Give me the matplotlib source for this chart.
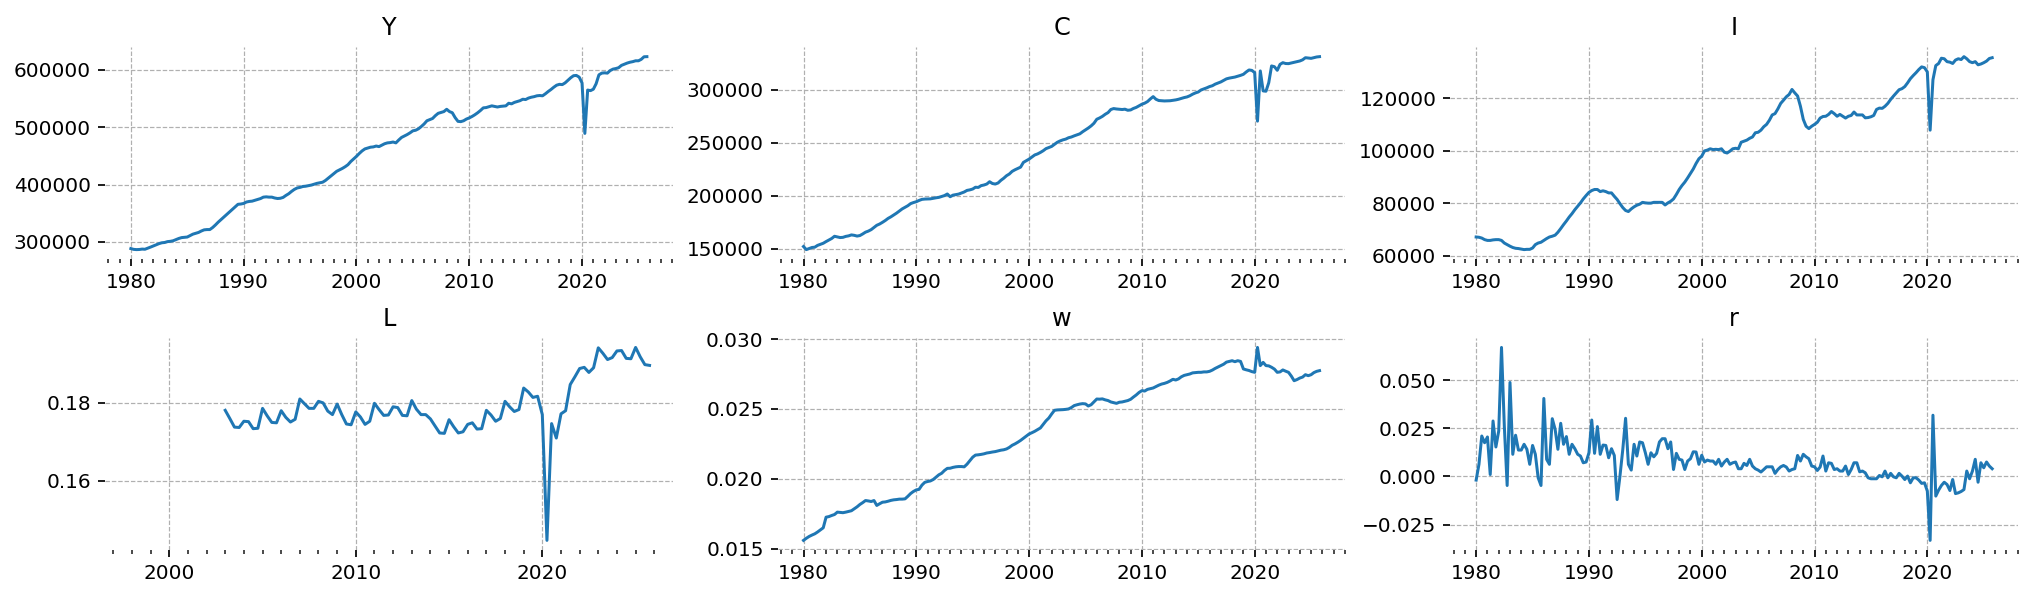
import matplotlib
matplotlib.use("Agg")
import matplotlib.pyplot as plt
import matplotlib.dates as mdates
import pandas as pd
import datetime as dt

# ---------------- data (quarterly, 1980Q1 - 2025Q4) ----------------
start_main = "1980-01-01"
start_L = "2003-01-01"

Y = [
    288400, 287000, 286600, 286800,  287500, 287200, 289000, 291000,
    293000, 295000, 297000, 298500,  299000, 300500, 301000, 302000,
    304000, 306000, 307500, 308000,  308500, 311000, 313500, 315000,
    316500, 319000, 321000, 321500,  321500, 325000, 329500, 334500,
    339000, 343500, 348000, 352500,  357000, 361500, 365500, 366000,
    367000, 369500, 370500, 371000,  372500, 374000, 375500, 378000,
    378500, 378000, 378000, 376500,  375600, 376000, 377500, 381000,
    384000, 388000, 391500, 394000,  395000, 396500, 397000, 398000,
    399000, 400500, 402000, 403000,  404000, 407000, 411000, 415000,
    419000, 423000, 425500, 428000,  431000, 434500, 440000, 444500,
    449000, 454000, 458500, 462000,  463500, 465000, 465500, 467000,
    466000, 468500, 471000, 472500,  473000, 474000, 472500, 477500,
    482000, 484500, 487000, 490000,  493500, 494500, 497000, 501000,
    505500, 511000, 513000, 515000,  520000, 524000, 525500, 527000,
    531000, 527000, 525000, 516500,  510000, 509500, 511000, 514000,
    516000, 518500, 521500, 525000,  529000, 533500, 534000, 535500,
    537000, 536000, 535000, 536000,  536500, 537000, 541500, 540500,
    543000, 544500, 546000, 548500,  548000, 550500, 552000, 553000,
    554500, 555000, 554500, 558000,  562000, 565500, 569500, 573000,
    574500, 574000, 577000, 581500,  586000, 589500, 590000, 587000,
    577000, 489000, 564500, 563500,  566000, 575500, 591000, 594000,
    594500, 594000, 598500, 601000,  602000, 603500, 607500, 609500,
    611500, 613000, 614000, 615500,  615500, 618000, 622500, 622700,
]

C = [
    151900, 149000, 150000, 151000,  151300, 153000, 154000, 155000,
    156600, 158000, 159500, 161600,  161000, 160400, 160600, 161500,
    162000, 162900, 162500, 161800,  162300, 163800, 165500, 166500,
    167900, 170000, 172000, 173200,  174800, 176500, 178500, 180000,
    181800, 183500, 185500, 187500,  189000, 190500, 192500, 193500,
    194300, 195500, 196500, 196800,  196900, 197000, 197500, 198000,
    198400, 199200, 200100, 201600,  199000, 200500, 201000, 201500,
    202500, 203500, 205000, 205500,  206300, 208000, 207800, 209500,
    210100, 211000, 213200, 211500,  211000, 212000, 214500, 216500,
    218900, 220500, 223000, 224500,  225800, 227000, 231500, 233000,
    234600, 236500, 238500, 239500,  240900, 242500, 244500, 245500,
    246600, 248500, 250500, 251800,  252800, 253500, 254800, 255500,
    256600, 257500, 258500, 260500,  262300, 264000, 266000, 268500,
    272300, 273500, 275000, 277000,  278600, 281500, 282400, 282000,
    281800, 281500, 281800, 280800,  281100, 282500, 283500, 285000,
    286500, 287500, 289000, 291500,  293700, 291200, 290000, 289800,
    289600, 289700, 289800, 290200,  290600, 291200, 292000, 292800,
    293400, 294500, 296000, 297200,  298100, 300000, 301000, 302000,
    303200, 304000, 305500, 306500,  307600, 309000, 310500, 311200,
    311700, 312200, 313000, 313800,  314800, 317000, 318900, 318500,
    316400, 270500, 318000, 299100,  298800, 306900, 322700, 322000,
    318600, 324200, 325800, 325000,  324900, 325500, 326000, 326800,
    327400, 328500, 330500, 330200,  329900, 330500, 331200, 331500,
]

I = [
    67100, 67000, 66700, 66100,  65800, 65800, 66000, 66100,
    66100, 65800, 64800, 64200,  63600, 63100, 62800, 62700,
    62500, 62300, 62400, 62400,  62900, 64200, 64800, 65100,
    65800, 66500, 67100, 67400,  67800, 68900, 70300, 71800,
    73200, 74700, 76000, 77500,  78800, 80100, 81600, 82900,
    84100, 84800, 85200, 85200,  84400, 84700, 84400, 83900,
    83900, 82600, 81400, 79800,  78300, 77200, 76800, 77800,
    78600, 79200, 79600, 80300,  80100, 80000, 80000, 80300,
    80300, 80300, 80300, 79300,  80100, 80700, 81600, 83300,
    85200, 86700, 88000, 89600,  91300, 93000, 95100, 96900,
    97900, 99900, 100200, 100700,  100400, 100500, 100400, 100700,
    99400, 99100, 99800, 100700,  100900, 100700, 103200, 103600,
    104000, 104700, 105200, 106800,  107000, 107800, 109100, 110000,
    111600, 113600, 114100, 115900,  118000, 119200, 120500, 121400,
    123300, 122000, 120800, 116900,  111900, 109300, 108400, 109300,
    110000, 110800, 112400, 113000,  113100, 113800, 114900, 114100,
    113100, 113800, 113100, 112400,  113100, 113400, 114700, 113600,
    113600, 113600, 112500, 112600,  112900, 113400, 115700, 116200,
    116100, 116900, 118000, 119500,  120800, 122000, 123200, 123600,
    124400, 125800, 127400, 128600,  129700, 130900, 131900, 131600,
    130000, 107800, 127000, 132400,  133200, 135200, 135000, 133900,
    133700, 133200, 134500, 135000,  134700, 135800, 135000, 133900,
    133500, 133900, 132700, 133000,  133500, 134100, 135100, 135400,
]

L = [
    0.1780, 0.1759, 0.1737, 0.1736,  0.1752, 0.1751, 0.1733, 0.1734,
    0.1785, 0.1766, 0.1749, 0.1748,  0.1779, 0.1762, 0.1750, 0.1757,
    0.1809, 0.1797, 0.1785, 0.1785,  0.1803, 0.1799, 0.1778, 0.1769,
    0.1796, 0.1769, 0.1745, 0.1743,  0.1776, 0.1763, 0.1744, 0.1752,
    0.1798, 0.1782, 0.1767, 0.1768,  0.1789, 0.1787, 0.1767, 0.1766,
    0.1805, 0.1783, 0.1769, 0.1769,  0.1758, 0.1740, 0.1722, 0.1721,
    0.1756, 0.1738, 0.1722, 0.1725,  0.1744, 0.1748, 0.1732, 0.1733,
    0.1780, 0.1768, 0.1752, 0.1759,  0.1803, 0.1789, 0.1777, 0.1782,
    0.1837, 0.1827, 0.1813, 0.1816,  0.1769, 0.1447, 0.1746, 0.1709,
    0.1771, 0.1779, 0.1846, 0.1866,  0.1887, 0.1890, 0.1877, 0.1889,
    0.1940, 0.1926, 0.1910, 0.1915,  0.1932, 0.1933, 0.1913, 0.1912,
    0.1941, 0.1917, 0.1897, 0.1895,
]

w = [
    0.01560, 0.01575, 0.01588, 0.01598,  0.01607, 0.01620, 0.01635, 0.01650,
    0.01726, 0.01730, 0.01738, 0.01745,  0.01762, 0.01760, 0.01758, 0.01762,
    0.01767, 0.01772, 0.01786, 0.01800,  0.01817, 0.01830, 0.01845, 0.01842,
    0.01838, 0.01845, 0.01810, 0.01822,  0.01833, 0.01835, 0.01840, 0.01846,
    0.01850, 0.01852, 0.01855, 0.01855,  0.01857, 0.01875, 0.01895, 0.01910,
    0.01921, 0.01925, 0.01955, 0.01975,  0.01981, 0.01985, 0.01995, 0.02012,
    0.02029, 0.02040, 0.02060, 0.02075,  0.02076, 0.02082, 0.02086, 0.02088,
    0.02088, 0.02086, 0.02105, 0.02130,  0.02155, 0.02170, 0.02172, 0.02175,
    0.02179, 0.02185, 0.02188, 0.02192,  0.02195, 0.02200, 0.02205, 0.02208,
    0.02214, 0.02225, 0.02240, 0.02250,  0.02262, 0.02275, 0.02290, 0.02305,
    0.02321, 0.02330, 0.02340, 0.02352,  0.02364, 0.02390, 0.02415, 0.02435,
    0.02464, 0.02490, 0.02493, 0.02494,  0.02495, 0.02497, 0.02500, 0.02510,
    0.02524, 0.02530, 0.02535, 0.02538,  0.02536, 0.02521, 0.02530, 0.02550,
    0.02571, 0.02570, 0.02572, 0.02565,  0.02560, 0.02550, 0.02545, 0.02540,
    0.02548, 0.02550, 0.02555, 0.02560,  0.02569, 0.02585, 0.02600, 0.02618,
    0.02631, 0.02628, 0.02640, 0.02645,  0.02650, 0.02660, 0.02670, 0.02678,
    0.02683, 0.02690, 0.02700, 0.02712,  0.02707, 0.02715, 0.02730, 0.02740,
    0.02745, 0.02750, 0.02758, 0.02760,  0.02762, 0.02762, 0.02765, 0.02765,
    0.02769, 0.02778, 0.02790, 0.02800,  0.02810, 0.02820, 0.02835, 0.02840,
    0.02845, 0.02838, 0.02845, 0.02840,  0.02786, 0.02780, 0.02775, 0.02767,
    0.02762, 0.02940, 0.02810, 0.02833,  0.02810, 0.02808, 0.02798, 0.02785,
    0.02762, 0.02765, 0.02779, 0.02770,  0.02762, 0.02735, 0.02702, 0.02710,
    0.02721, 0.02728, 0.02745, 0.02738,  0.02745, 0.02760, 0.02769, 0.02774,
]

r = [
    -0.0019, 0.0063, 0.0210, 0.0175, 0.0205, 0.0010, 0.0288, 0.0153, 0.0236, 0.0670,
    0.0262, -0.0047, 0.0488, 0.0115, 0.0214, 0.0137, 0.0137, 0.0167, 0.0141, 0.0063,
    0.0161, 0.0115, -0.0007, -0.0047, 0.0405, 0.0089, 0.0063, 0.0300, 0.0245, 0.0141,
    0.0276, 0.0167, 0.0207, 0.0115, 0.0167, 0.0144, 0.0115, 0.0106, 0.0071, 0.0075,
    0.0123, 0.0293, 0.0120, 0.0259, 0.0115, 0.0163, 0.0161, 0.0097, 0.0144, 0.0109,
    -0.0120, 0.0002, 0.0141, 0.0302, 0.0063, 0.0033, 0.0167, 0.0106, 0.0179, 0.0175,
    0.0123, 0.0063, 0.0123, 0.0102, 0.0120, 0.0179, 0.0196, 0.0196, 0.0144, 0.0179,
    0.0036, 0.0120, 0.0089, 0.0085, 0.0036, 0.0080, 0.0092, 0.0128, 0.0127, 0.0063,
    0.0110, 0.0075, 0.0085, 0.0080, 0.0080, 0.0063, 0.0089, 0.0054, 0.0075, 0.0089,
    0.0063, 0.0071, 0.0075,
    0.0040, 0.0040, 0.0068, 0.0057, 0.0089, 0.0054, 0.0040, 0.0033, 0.0023, 0.0036,
    0.0050, 0.0050, 0.0050, 0.0016, 0.0036, 0.0050, 0.0057, 0.0049, 0.0028, 0.0036,
    0.0040, 0.0109, 0.0080, 0.0115, 0.0102, 0.0092, 0.0054, 0.0050, 0.0031, 0.0049,
    0.0106, 0.0028, 0.0071, 0.0068, 0.0036, 0.0040, 0.0028, 0.0028, 0.0054, 0.0010,
    0.0036, 0.0071, 0.0071, 0.0024, 0.0028, 0.0019, -0.0007, -0.0012, -0.0012, -0.0012,
    0.0005, -0.0002, 0.0028, -0.0007, 0.0016, -0.0002, -0.0007, 0.0016, 0.0002, -0.0016,
    0.0002, -0.0033, -0.0007, -0.0007, -0.0019, -0.0036, -0.0033, -0.0076, -0.0332, 0.0318,
    -0.0102, -0.0071, -0.0047, -0.0030, -0.0042, -0.0073, -0.0016, -0.0089, -0.0085, -0.0078,
    -0.0068, 0.0028, -0.0012, 0.0028, 0.0089, -0.0030, 0.0071, 0.0045, 0.0075, 0.0054,
    0.0040,
]

titles = ["Y", "C", "I", "L", "w", "r"]

# ---------------- figure ----------------
dates_main = pd.date_range(start_main, periods=len(Y), freq="QS")
dates_L = pd.date_range(start_L, periods=len(L), freq="QS")

series = [
    (dates_main, Y), (dates_main, C), (dates_main, I),
    (dates_L, L), (dates_main, w), (dates_main, r),
]

plt.rcParams["font.family"] = ["DejaVu Sans"]
fig, axes = plt.subplots(2, 3, figsize=(2032 / 144, 592 / 144), dpi=144)
fig.subplots_adjust(left=0.0517, right=0.9931, bottom=0.0709, top=0.9206,
                    wspace=0.185, hspace=0.37)

for ax, (dts, vals), title in zip(axes.flat, series, titles):
    ax.plot(dts, vals, color="#1f77b4", linewidth=1.5)
    ax.set_title(title, fontsize=12)
    ax.xaxis.set_major_locator(mdates.YearLocator(10))
    ax.xaxis.set_minor_locator(mdates.YearLocator(1))
    ax.xaxis.set_major_formatter(mdates.DateFormatter("%Y"))
    for s in ax.spines.values():
        s.set_visible(False)
    ax.grid(True, which="major", linestyle="--", color="#b0b0b0", linewidth=0.6)
    ax.tick_params(axis="both", which="major", labelsize=10, length=3.5,
                   width=1.0, color="#222222")
    ax.tick_params(axis="x", which="minor", length=2.0, width=0.8, color="#222222")

axes[1, 0].set_xlim(dt.datetime(1996, 7, 23), dt.datetime(2026, 12, 28))

fig.savefig("out.png", dpi=144)
